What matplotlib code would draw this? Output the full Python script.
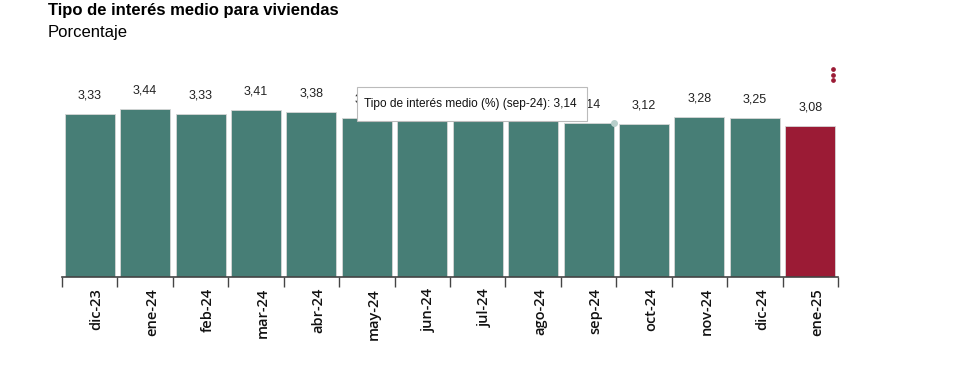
import numpy as np
import matplotlib
matplotlib.use("Agg")
import matplotlib.pyplot as plt
import matplotlib.transforms as mtransforms

# data (may-ago are partly hidden by the tooltip)
meses = ["dic-23", "ene-24", "feb-24", "mar-24", "abr-24", "may-24", "jun-24",
         "jul-24", "ago-24", "sep-24", "oct-24", "nov-24", "dic-24", "ene-25"]
tipo = [3.33, 3.44, 3.33, 3.41, 3.38, 3.26, 3.19, 3.18, 3.19, 3.14, 3.12, 3.28, 3.25, 3.08]

verde = "#477e76"
rojo = "#9b1b35"
colores = [verde] * (len(tipo) - 1) + [rojo]

W, H = 958, 370
fig = plt.figure(figsize=(W / 100, H / 100), dpi=100)
ax = fig.add_axes([62 / W, 93 / H, 776 / W, 195.6 / H])

x = np.arange(len(meses))
ax.bar(x, tipo, width=0.9, color=colores, edgecolor="#d6d6d6", linewidth=0.6)

ax.set_xlim(-0.5, len(meses) - 0.5)
ax.set_ylim(0, 4)

# value labels; jun-ago sit fully behind the tooltip on the page, may and sep partly
for xi, v in zip(x, tipo):
    if 6 <= xi <= 8:
        continue
    ax.text(xi, v + 0.38, f"{v:.2f}".replace(".", ","), ha="center", va="center",
            fontsize=9, family="Liberation Sans", color="#222222")

# ticks at the category edges, labels at the centres
ax.set_xticks(np.arange(-0.5, len(meses), 1.0))
ax.set_xticklabels([])
ax.set_xticks(x, minor=True)
ax.set_xticklabels(meses, minor=True, rotation=90, fontsize=10.5, family="Open Sans",
                   weight="semibold", color="#111111", va="top")
ax.tick_params(axis="x", which="major", length=7.5, width=1, color="#444444")
ax.tick_params(axis="x", which="minor", length=0, pad=8)
off = mtransforms.ScaledTranslation(7 / 100, 0, fig.dpi_scale_trans)
for lab in ax.get_xticklabels(minor=True):
    lab.set_transform(lab.get_transform() + off)
ax.set_yticks([])
for s in ["top", "right", "left"]:
    ax.spines[s].set_visible(False)
ax.spines["bottom"].set_color("#444444")
ax.spines["bottom"].set_linewidth(1.2)

fig.text(48 / W, 1 - 11 / H, "Tipo de interés medio para viviendas", fontsize=12,
         weight="bold", family="Liberation Sans", va="center", ha="left")
fig.text(48 / W, 1 - 32 / H, "Porcentaje", fontsize=12, family="Liberation Sans",
         va="center", ha="left")

# tooltip as shown on the page
ax.plot(9.46, tipo[9], "o", ms=4, color="#b8cfcb", clip_on=False, zorder=5)
fig.patches.append(plt.Rectangle((357 / W, 1 - 121 / H), 230 / W, 34 / H,
                                 transform=fig.transFigure, fc="white", ec="#bbbbbb",
                                 lw=0.8, zorder=10))
fig.text(364 / W, 1 - 104 / H, "Tipo de interés medio (%) (sep-24): 3,14", fontsize=8.6,
         family="Liberation Sans", va="center", ha="left", color="#111111", zorder=11)

# menu dots
fig.lines.append(plt.Line2D([833 / W] * 3, [1 - 69 / H, 1 - 74.5 / H, 1 - 80 / H],
                            transform=fig.transFigure, ls="none", marker="o", ms=2.4,
                            color=rojo))

fig.savefig("out.png", dpi=100)
